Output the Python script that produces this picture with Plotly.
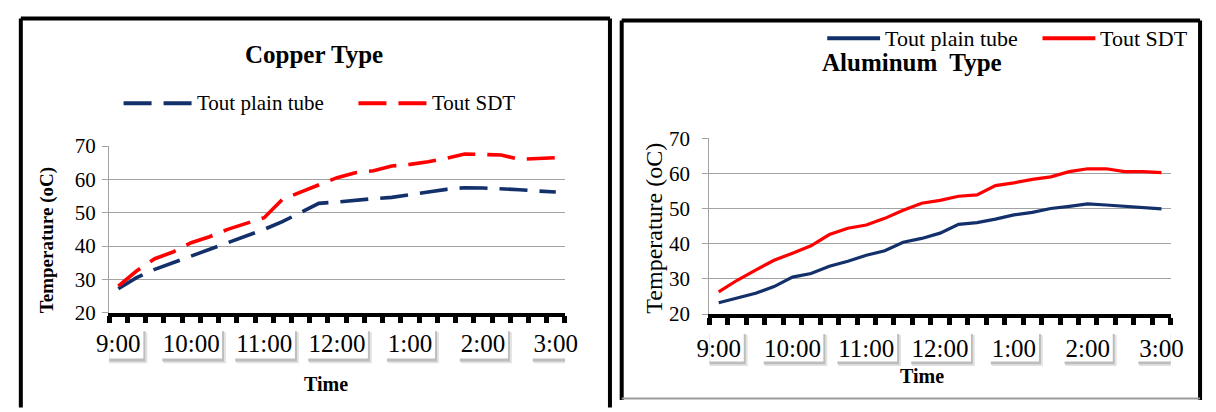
import plotly.graph_objects as go

W, H = 1216, 412

# ---------------- data ----------------
time_labels = ["9:00", "10:00", "11:00", "12:00", "1:00", "2:00", "3:00"]
label_idx = [0, 4, 8, 12, 16, 20, 24]
x_idx = list(range(25))  # 15-minute readings from 9:00 to 3:00

copper_plain = [27.2, 30.5, 33.0, 35.0, 37.0, 38.8, 41.0, 43.0, 45.0, 47.3, 50.0, 52.8, 53.2,
                53.8, 54.2, 54.6, 55.3, 56.2, 57.0, 57.5, 57.4, 57.2, 56.9, 56.5, 56.2]
copper_sdt = [28.0, 32.5, 36.2, 38.2, 41.0, 42.8, 45.0, 46.8, 48.5, 54.0, 56.2, 58.3, 60.5,
              62.0, 62.6, 64.0, 64.5, 65.3, 66.3, 67.6, 67.5, 67.3, 66.0, 66.3, 66.5]
alu_plain = [23.2, 24.6, 25.9, 27.8, 30.5, 31.5, 33.6, 35.0, 36.7, 38.0, 40.4, 41.5, 43.0,
             45.5, 46.0, 47.0, 48.2, 48.9, 50.0, 50.6, 51.3, 51.0, 50.6, 50.3, 49.9]
alu_sdt = [26.3, 29.6, 32.5, 35.3, 37.3, 39.4, 42.6, 44.4, 45.3, 47.2, 49.5, 51.5, 52.3,
           53.5, 53.9, 56.5, 57.3, 58.3, 59.0, 60.5, 61.3, 61.3, 60.5, 60.5, 60.2]

series_names = ["Tout plain tube", "Tout SDT"]
y_ticks = [20, 30, 40, 50, 60, 70]

NAVY = "#13306B"
RED = "#FF0000"
GRID = "#A3A3A3"
SERIF = "Liberation Serif, Times New Roman, serif"


def px(x):
    return x / W


def py(y):
    return 1 - y / H


panels = [
    dict(xa="x", ya="y", xd=(98.3, 564.0), yd=(319.3, 142.3), plain=copper_plain, sdt=copper_sdt,
         dash="28px,12px", lw=3.6, title="<b>Copper Type</b>", title_xy=(308, 45),
         xt_xy=(320, 395), yt_xy=(35, 242), yt_text="<b>Temperature (oC)</b>", yt_size=19,
         leg_y=97, leg_x=[113, 353], leg_len=70, leg_size=21, lab_y=352, ystand=2, xstand=6),
    dict(xa="x2", ya="y2", xd=(711.7, 1183.0), yd=(320.7, 134.0), plain=alu_plain, sdt=alu_sdt,
         dash="solid", lw=3.2, title="<b>Aluminum\u00a0 Type</b>", title_xy=(919, 54),
         xt_xy=(929, 387), yt_xy=(655, 229), yt_text="Temperature (oC)", yt_size=24,
         leg_y=28, leg_x=[832, 1052], leg_len=54, leg_size=22, lab_y=355, ystand=8, xstand=9),
]

fig = go.Figure()
annotations = []
shapes = []
layout_axes = {}

for k, p in enumerate(panels):
    for vals, col, nm in [(p["plain"], NAVY, series_names[0]), (p["sdt"], RED, series_names[1])]:
        fig.add_trace(go.Scatter(x=x_idx, y=vals, mode="lines", name=nm, showlegend=False,
                                 xaxis=p["xa"], yaxis=p["ya"],
                                 line=dict(color=col, width=p["lw"], dash=p["dash"], shape="linear")))
    xkey = "xaxis" if k == 0 else "xaxis2"
    ykey = "yaxis" if k == 0 else "yaxis2"
    layout_axes[xkey] = dict(
        domain=[px(p["xd"][0]), px(p["xd"][1])], anchor=p["ya"], range=[-0.5, 24.5],
        showgrid=False, zeroline=False, showline=True, linecolor="black", linewidth=3.5,
        tickmode="array", tickvals=label_idx, ticktext=time_labels, ticks="",
        ticklabelstandoff=p["xstand"],
        tickfont=dict(family=SERIF, size=25, color="black"),
        minor=dict(tickmode="array", tickvals=[i - 0.5 for i in range(26)], ticks="outside",
                   ticklen=7, tickwidth=5, tickcolor="black", showgrid=False),
    )
    layout_axes[ykey] = dict(
        domain=[py(p["yd"][0]), py(p["yd"][1])], anchor=p["xa"], range=[20, 70],
        tickmode="array", tickvals=y_ticks, showgrid=True, gridcolor=GRID, gridwidth=1.4,
        zeroline=False, showline=True, linecolor=GRID, linewidth=1.4,
        ticks="outside", ticklen=6, tickwidth=1.4, tickcolor=GRID, ticklabelstandoff=p["ystand"],
        tickfont=dict(family=SERIF, size=21, color="black"),
    )
    # titles
    annotations.append(dict(text=p["title"], x=px(p["title_xy"][0]), y=py(p["title_xy"][1]),
                            xref="paper", yref="paper", showarrow=False, xanchor="center",
                            yanchor="middle", font=dict(family=SERIF, size=25, color="black")))
    annotations.append(dict(text="<b>Time</b>", x=px(p["xt_xy"][0]), y=py(p["xt_xy"][1]),
                            xref="paper", yref="paper", showarrow=False, xanchor="center",
                            yanchor="middle", font=dict(family=SERIF, size=20, color="black")))
    annotations.append(dict(text=p["yt_text"], x=px(p["yt_xy"][0]), y=py(p["yt_xy"][1]),
                            xref="paper", yref="paper", showarrow=False, xanchor="center",
                            yanchor="middle", textangle=-90,
                            font=dict(family=SERIF, size=p["yt_size"], color="black")))
    # legend (drawn manually to get long line samples)
    for j, (nm, col) in enumerate([(series_names[0], NAVY), (series_names[1], RED)]):
        x0 = p["leg_x"][j]
        shapes.append(dict(type="line", xref="paper", yref="paper",
                           x0=px(x0), x1=px(x0 + p["leg_len"]), y0=py(p["leg_y"]), y1=py(p["leg_y"]),
                           line=dict(color=col, width=4, dash=p["dash"])))
        annotations.append(dict(text=nm, x=px(x0 + p["leg_len"] + 3), y=py(p["leg_y"]),
                                xref="paper", yref="paper", showarrow=False, xanchor="left",
                                yanchor="middle", font=dict(family=SERIF, size=p["leg_size"], color="black")))
    # shadowed boxes behind the time labels
    ppc = (p["xd"][1] - p["xd"][0]) / 25.0
    for tv, tl in zip(label_idx, time_labels):
        wpx = len(tl) * 11.8 + 4
        hw = wpx / 2 / ppc
        yt, yb = p["lab_y"] - 15, p["lab_y"] + 16
        shapes.append(dict(type="rect", layer="below", xref=p["xa"], yref="paper",
                           x0=tv - hw + 3 / ppc, x1=tv + hw + 4 / ppc, y0=py(yb + 5), y1=py(yt + 3),
                           fillcolor="#e2e2e2", line=dict(width=0)))
        shapes.append(dict(type="rect", layer="below", xref=p["xa"], yref="paper",
                           x0=tv - hw + 2 / ppc, x1=tv + hw + 2 / ppc, y0=py(yb + 3), y1=py(yt + 2),
                           fillcolor="#bdbdbd", line=dict(width=0)))
        shapes.append(dict(type="rect", layer="below", xref=p["xa"], yref="paper",
                           x0=tv - hw, x1=tv + hw, y0=py(yb), y1=py(yt),
                           fillcolor="white", line=dict(width=0)))

# panel frames
for (x0, y0, x1, y1) in [(8, 7, 8, 420), (8, 7, 610, 7), (610, 7, 610, 420),
                         (622, 9, 622, 412), (622, 9, 1213, 9), (1213, 9, 1213, 412)]:
    shapes.append(dict(type="line", xref="paper", yref="paper", x0=px(x0), x1=px(x1),
                       y0=py(y0), y1=py(y1), line=dict(color="black", width=4)))
shapes.append(dict(type="line", xref="paper", yref="paper", x0=px(622), x1=px(1213),
                   y0=py(410.5), y1=py(410.5), line=dict(color="#9a9a9a", width=2)))

fig.update_layout(
    width=W, height=H, margin=dict(l=0, r=0, t=0, b=0),
    paper_bgcolor="white", plot_bgcolor="white", showlegend=False,
    annotations=annotations, shapes=shapes, **layout_axes,
)

fig.write_html("out.html", config={"displayModeBar": False},
               post_script="document.body.style.margin='0';document.body.style.overflow='hidden';")
